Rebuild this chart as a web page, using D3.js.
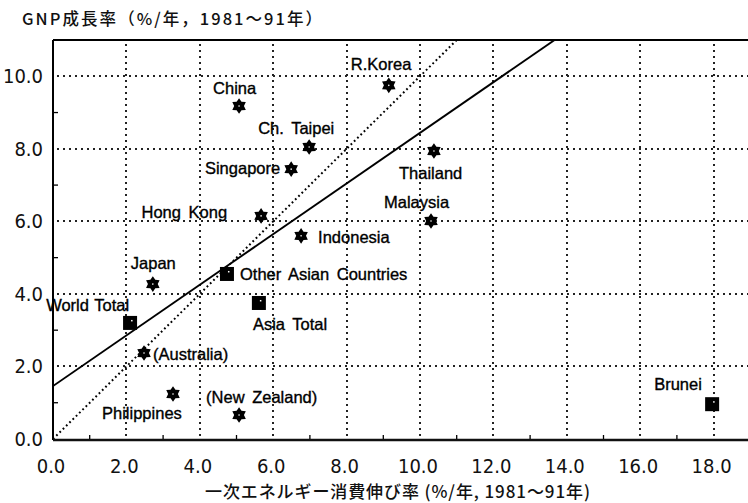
<!DOCTYPE html>
<html><head><meta charset="utf-8">
<script src="https://cdn.jsdelivr.net/npm/d3@7"></script>
<style>
html,body{margin:0;padding:0;background:#fff;}
svg{display:block;}
</style></head>
<body>
<svg id="c" width="748" height="503"></svg>
<script>
// ---- data ----
const names = ["R.Korea","China","Ch. Taipei","Thailand","Singapore","Hong Kong","Malaysia","Indonesia","Japan","Other Asian Countries","Asia Total","World Total","(Australia)","Philippines","(New Zealand)","Brunei"];
const energyGrowth = [9.15,5.07,6.98,10.38,6.49,5.67,10.3,6.76,2.72,4.74,5.61,2.1,2.48,3.27,5.07,17.96];
const gnpGrowth   = [9.75,9.18,8.05,7.94,7.44,6.15,6.01,5.6,4.27,4.55,3.75,3.2,2.37,1.24,0.66,0.96];
const markerType  = ["star","star","star","star","star","star","star","star","star","square","square","square","star","star","star","square"];
const xTicks = [0,2,4,6,8,10,12,14,16,18];
const yTicks = [0,2,4,6,8,10];
const regIntercept = 1.46, regSlope = 0.698; // solid line
const unitSlope = 1.0; // dotted line (elasticity 1)
const yTitle = "GNP成長率（%/年，1981～91年）";
const xTitle = "一次エネルギー消費伸び率 (%/年, 1981～91年)";

// ---- layout (label offsets in px) ----
const labelLayout = [
  [-38,-15,"start"],[-26,-12,"start"],[-51,-13,"start"],[-35,28,"start"],
  [-11,5,"end"],[-34,2,"end"],[-47,-13,"start"],[17,7,"start"],
  [-22,-15,"start"],[13,6,"start"],[-6,27,"start"],[-1,-12,"end"],
  [9,7,"start"],[-71,25,"start"],[-33,-12,"start"],[-58,-14,"start"]
];

const svg = d3.select("#c");
const L=53, T=40, R=748, B=439;
const x = d3.scaleLinear().domain([0,19]).range([L, L+19*36.7]);
const y = d3.scaleLinear().domain([0,11]).range([B, T]);

const labelFont = "'Liberation Sans', Arial, sans-serif";
const tickFont = "'Liberation Sans Narrow','DejaVu Sans Condensed','Liberation Sans',sans-serif";
const cjk = "'Noto Sans CJK JP', sans-serif";

svg.append("defs").append("clipPath").attr("id","pc")
  .append("rect").attr("x",L).attr("y",T).attr("width",R-L).attr("height",B-T+1);

// grid (dotted)
const grid = svg.append("g").attr("fill","none").attr("stroke","#222")
  .attr("stroke-width",2).attr("stroke-dasharray","2,4");
xTicks.filter(v=>v>0).forEach(v=>{
  const px = Math.round(x(v));
  grid.append("path").attr("d",`M${px},${T+4}V${B}`);
});
yTicks.filter(v=>v>0).forEach(v=>{
  const py = Math.round(y(v));
  grid.append("path").attr("d",`M${L+4},${py}H${R}`);
});

// lines
const plot = svg.append("g").attr("clip-path","url(#pc)");
plot.append("line")
  .attr("x1",x(0)).attr("y1",y(0)).attr("x2",x(11/unitSlope)).attr("y2",y(11))
  .attr("stroke","#000").attr("stroke-width",2).attr("stroke-dasharray","1.8,2.8");
plot.append("line")
  .attr("x1",x(0)).attr("y1",y(regIntercept)).attr("x2",x((11-regIntercept)/regSlope)).attr("y2",y(11))
  .attr("stroke","#000").attr("stroke-width",1.9);

// axes frame
svg.append("line").attr("x1",L).attr("x2",R).attr("y1",T).attr("y2",T).attr("stroke","#000").attr("stroke-width",2);
svg.append("line").attr("x1",L).attr("x2",L).attr("y1",T).attr("y2",B+1).attr("stroke","#000").attr("stroke-width",2);
svg.append("line").attr("x1",L).attr("x2",R).attr("y1",B+1).attr("y2",B+1).attr("stroke","#111").attr("stroke-width",2.5);

// minor ticks
const minor = svg.append("g").attr("stroke","#000").attr("stroke-width",1.3);
[1,3,5,7,9].forEach(v=>minor.append("line").attr("x1",L).attr("x2",L+5).attr("y1",y(v)).attr("y2",y(v)));
[1,3,5,7,9,11,13,15,17].forEach(v=>minor.append("line").attr("x1",x(v)).attr("x2",x(v)).attr("y1",B).attr("y2",B-4));

// tick labels
svg.append("g").selectAll("text").data(yTicks).join("text")
  .attr("x",43).attr("y",d=>y(d)+7).attr("text-anchor","end")
  .attr("font-family",tickFont).attr("font-size",20).attr("fill","#111")
  .text(d=>d.toFixed(1));
svg.append("g").selectAll("text").data(xTicks).join("text")
  .attr("x",d=>x(d)-2).attr("y",473).attr("text-anchor","middle")
  .attr("font-family",tickFont).attr("font-size",20).attr("fill","#111")
  .text(d=>d.toFixed(1));

// titles
svg.append("text").attr("x",22).attr("y",25).attr("font-family",cjk).attr("font-size",16.5).attr("font-weight",500)
  .attr("textLength",300).attr("lengthAdjust","spacing").attr("fill","#111").text(yTitle);
svg.append("text").attr("x",205).attr("y",498).attr("font-family",cjk).attr("font-size",17).attr("font-weight",500)
  .attr("textLength",385).attr("lengthAdjust","spacing").attr("fill","#111").text(xTitle);

// markers
const starPts = d3.range(12).map(i=>{
  const a = -Math.PI/2 + i*Math.PI/6;
  const r = i%2===0 ? 7.8 : 4.9;
  return [r*Math.cos(a), r*Math.sin(a)];
});
const starPath = "M"+starPts.map(p=>p.join(",")).join("L")+"Z";

const pts = names.map((n,i)=>({n, ex:energyGrowth[i], gy:gnpGrowth[i], t:markerType[i], lo:labelLayout[i]}));
const mk = svg.append("g");
pts.forEach(p=>{
  const g = mk.append("g").attr("transform",`translate(${x(p.ex)},${y(p.gy)})`);
  if(p.t==="star"){
    g.append("path").attr("d",starPath).attr("fill","#000");
    g.append("circle").attr("r",0.8).attr("fill","#fff");
  } else {
    g.append("rect").attr("x",-7).attr("y",-7).attr("width",14).attr("height",14).attr("fill","#000");
    g.append("rect").attr("x",1).attr("y",-3).attr("width",1.5).attr("height",1.5).attr("fill","#fff");
  }
  g.append("text").attr("x",p.lo[0]).attr("y",p.lo[1]).attr("text-anchor",p.lo[2])
    .attr("font-family",labelFont).attr("font-size",16.5).attr("word-spacing",p.n==="World Total"?1:3)
    .attr("stroke","#000").attr("stroke-width",0.35)
    .attr("fill","#000").text(p.n);
});
</script>
</body></html>
